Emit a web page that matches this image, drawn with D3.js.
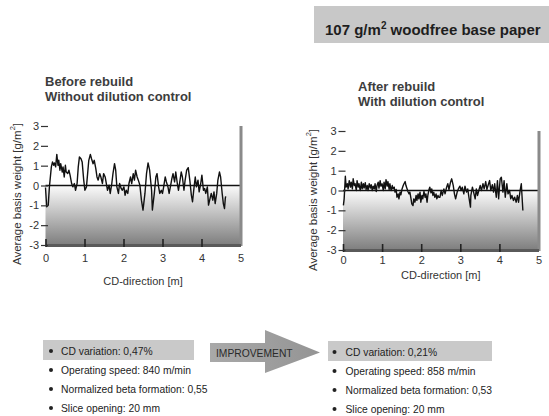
<!DOCTYPE html>
<html>
<head>
<meta charset="utf-8">
<script src="https://cdn.jsdelivr.net/npm/d3@7"></script>
<style>
    body { margin: 0; background: #fff; }
    svg { display: block; font-family: "Liberation Sans", Arial, sans-serif; }
</style>
</head>
<body>
<svg id="chart" width="549" height="416"></svg>
<script>
// Basis weight profile before rebuild (CD position in m, deviation in g/m2)
const beforeX = [0.00, 0.03, 0.07, 0.10, 0.15, 0.18, 0.21, 0.23, 0.26, 0.29, 0.32, 0.34, 0.37, 0.39, 0.43, 0.45, 0.48, 0.51, 0.53, 0.57,
    0.60, 0.63, 0.67, 0.70, 0.74, 0.77, 0.81, 0.84, 0.87, 0.91, 0.94, 0.98, 1.01, 1.05, 1.08, 1.11, 1.15, 1.18, 1.22, 1.25,
    1.29, 1.32, 1.35, 1.39, 1.42, 1.46, 1.49, 1.53, 1.56, 1.59, 1.63, 1.66, 1.70, 1.73, 1.77, 1.80, 1.83, 1.87, 1.90, 1.94,
    1.97, 2.01, 2.04, 2.07, 2.11, 2.14, 2.18, 2.21, 2.25, 2.28, 2.31, 2.35, 2.38, 2.42, 2.46, 2.50, 2.55, 2.59, 2.63, 2.67,
    2.72, 2.74, 2.79, 2.83, 2.86, 2.90, 2.93, 2.97, 3.00, 3.03, 3.07, 3.10, 3.14, 3.17, 3.21, 3.24, 3.27, 3.31, 3.34, 3.38,
    3.41, 3.45, 3.48, 3.51, 3.55, 3.58, 3.62, 3.66, 3.70, 3.74, 3.77, 3.81, 3.84, 3.87, 3.91, 3.94, 3.98, 4.01, 4.05, 4.08,
    4.11, 4.15, 4.18, 4.22, 4.25, 4.29, 4.32, 4.35, 4.39, 4.42, 4.46, 4.49, 4.53, 4.56, 4.59, 4.61, 4.62];
const beforeY = [-0.1, -1.07, -0.99, -0.07, 0.94, 1.19, 1.02, 1.14, 0.94, 1.57, 1.02, 1.27, 0.77, 1.10, 0.68, 0.94, 0.43, 1.02, 0.68, 0.60,
    0.77, 0.52, 0.10, -0.07, 0.10, -0.24, 0.10, 0.94, 1.44, 1.35, 1.19, 0.27, -0.24, -0.07, 0.60, 1.27, 1.57, 1.35, 1.10, 1.27,
    0.85, 0.43, 0.27, 0.60, 0.43, 0.10, 0.60, 0.43, 0.10, -0.24, 0.02, -0.40, 0.10, 0.60, 1.10, 0.77, -0.07, -0.40, 0.10, -0.15,
    -0.24, -0.07, -0.49, -0.24, -0.40, 0.10, 0.43, 0.10, 0.60, 0.27, 0.77, 0.43, 0.27, 0.02, -0.74, -1.24, -0.40, 0.60, 1.14, 0.77,
    -0.24, -1.24, -0.40, 0.43, 0.60, -0.07, -0.40, -0.24, -0.40, -0.07, 0.43, 0.18, -0.07, -0.40, 0.02, 0.35, 0.60, 0.18, 0.68, 0.10,
    -0.24, 0.27, 0.68, 0.43, -0.24, 0.27, 0.77, 0.90, 0.27, -0.49, -0.82, -0.07, 0.43, -0.07, 0.27, -0.32, 0.10, 0.52, -0.24, -0.15,
    -0.40, -0.07, -0.99, -0.65, -0.40, -0.74, -0.32, -0.91, -0.40, 0.27, 0.68, 0.43, -0.40, -0.91, -1.16, -0.65, -0.55];

// Basis weight profile after rebuild
const afterX = [0.01, 0.03, 0.06, 0.08, 0.11, 0.13, 0.16, 0.19, 0.21, 0.24, 0.26, 0.29, 0.31, 0.34, 0.36, 0.39, 0.41, 0.44, 0.47, 0.49,
    0.52, 0.54, 0.57, 0.59, 0.62, 0.64, 0.67, 0.70, 0.72, 0.75, 0.77, 0.80, 0.82, 0.85, 0.87, 0.90, 0.92, 0.95, 0.97, 1.00,
    1.03, 1.05, 1.08, 1.10, 1.13, 1.15, 1.18, 1.20, 1.23, 1.26, 1.28, 1.31, 1.33, 1.36, 1.38, 1.41, 1.43, 1.46, 1.48, 1.51,
    1.54, 1.56, 1.59, 1.61, 1.64, 1.66, 1.69, 1.71, 1.74, 1.76, 1.79, 1.81, 1.84, 1.87, 1.89, 1.92, 1.94, 1.97, 1.99, 2.02,
    2.04, 2.07, 2.10, 2.12, 2.15, 2.17, 2.20, 2.22, 2.25, 2.27, 2.30, 2.32, 2.35, 2.38, 2.40, 2.43, 2.45, 2.48, 2.51, 2.54,
    2.58, 2.61, 2.65, 2.68, 2.71, 2.75, 2.78, 2.82, 2.85, 2.88, 2.92, 2.95, 2.99, 3.02, 3.05, 3.09, 3.12, 3.16, 3.19, 3.22,
    3.26, 3.27, 3.31, 3.34, 3.38, 3.41, 3.44, 3.48, 3.51, 3.54, 3.58, 3.61, 3.65, 3.68, 3.71, 3.75, 3.78, 3.82, 3.85, 3.88,
    3.92, 3.95, 3.98, 4.02, 4.05, 4.09, 4.12, 4.15, 4.19, 4.22, 4.26, 4.29, 4.32, 4.36, 4.39, 4.43, 4.46, 4.49, 4.53, 4.56, 4.60];
const afterY = [-0.75, -0.42, 0.72, 0.17, 0.34, 0.08, 0.50, 0.17, 0.42, 0.08, 0.59, 0.25, 0.34, 0.00, 0.50, 0.17, 0.34, 0.00, 0.42, 0.08,
    0.34, 0.12, 0.39, 0.05, 0.25, 0.00, 0.34, 0.12, 0.29, 0.00, 0.22, 0.08, 0.34, -0.05, 0.25, 0.42, 0.12, 0.50, 0.22, 0.34,
    0.00, 0.42, 0.08, 0.55, 0.22, 0.45, 0.05, 0.34, 0.00, 0.25, 0.08, 0.17, -0.08, 0.05, -0.34, -0.17, -0.42, -0.08, -0.22, 0.08,
    0.25, 0.34, 0.45, 0.25, 0.08, -0.05, -0.17, -0.08, -0.42, -0.67, -0.76, -0.42, -0.59, -0.25, -0.50, -0.17, -0.42, -0.08, -0.59, -0.25,
    -0.42, -0.05, -0.34, -0.17, -0.59, -0.25, 0.05, 0.17, -0.12, 0.08, -0.25, -0.08, -0.34, -0.17, -0.42, -0.25, -0.34, -0.34, 0.00, -0.25,
    0.08, -0.17, 0.17, 0.34, 0.05, 0.42, 0.59, 0.25, -0.17, -0.42, -0.08, 0.08, 0.22, 0.00, 0.17, -0.17, 0.22, -0.08, 0.08, -0.34,
    -0.84, -0.25, 0.17, -0.08, -0.42, 0.08, -0.25, 0.05, 0.25, 0.00, 0.34, 0.08, 0.45, 0.05, 0.25, 0.50, 0.00, 0.29, -0.08, 0.34,
    -0.34, 0.50, -0.42, 0.59, 0.67, -0.08, 0.50, -0.34, 0.34, -0.17, 0.00, -0.42, -0.25, -0.50, -0.34, -0.59, -0.25, -0.59, 0.00, 0.34, -1.01];

// Axis ticks
const xTicks = [0, 1, 2, 3, 4, 5];
const yTicks = [3, 2, 1, 0, -1, -2, -3];

// Texts
const headerText = '107 g/m';
const beforeTitle = ['Before rebuild', 'Without dilution control'];
const afterTitle = ['After rebuild', 'With dilution control'];
const beforeStats = ['CD variation: 0,47%', 'Operating speed: 840 m/min', 'Normalized beta formation: 0,55', 'Slice opening: 20 mm'];
const afterStats = ['CD variation: 0,21%', 'Operating speed: 858 m/min', 'Normalized beta formation: 0,53', 'Slice opening: 20 mm'];

const svg = d3.select('#chart');
const defs = svg.append('defs');

const shade = defs.append('linearGradient')
    .attr('id', 'shade')
    .attr('x1', 0).attr('y1', 0).attr('x2', 0).attr('y2', 1);
shade.append('stop').attr('offset', '0%').attr('stop-color', '#fbfbfb');
shade.append('stop').attr('offset', '100%').attr('stop-color', '#7e7e7e');

const arrowFill = defs.append('linearGradient')
    .attr('id', 'arrowFill')
    .attr('x1', 0).attr('y1', 0).attr('x2', 1).attr('y2', 0);
arrowFill.append('stop').attr('offset', '0%').attr('stop-color', '#a9a9a9');
arrowFill.append('stop').attr('offset', '100%').attr('stop-color', '#949494');

// Header box
svg.append('rect')
    .attr('x', 314).attr('y', 6)
    .attr('width', 235).attr('height', 37)
    .attr('fill', '#c8c8c8');

const header = svg.append('text')
    .attr('x', 325).attr('y', 35)
    .attr('font-size', '15px')
    .attr('font-weight', 'bold')
    .attr('fill', '#1e1e1e');
header.append('tspan').text(headerText);
header.append('tspan').attr('font-size', '10px').attr('dy', -6).text('2');
header.append('tspan').attr('dy', 6).text(' woodfree base paper');

// Draw one profile panel
function drawPanel(cfg) {
    const x = d3.scaleLinear().domain([0, 5]).range([cfg.left, cfg.right]);
    const y = d3.scaleLinear().domain([-3, 3]).range([cfg.bottom, cfg.top]);
    const g = svg.append('g');

    // Titles
    cfg.title.forEach((line, i) => {
        g.append('text')
            .attr('x', cfg.titleX)
            .attr('y', cfg.titleY + i * 15)
            .attr('font-size', '13px')
            .attr('font-weight', 'bold')
            .attr('fill', '#3d3d3d')
            .text(line);
    });

    // Shaded area below zero
    g.append('rect')
        .attr('x', x(0))
        .attr('y', y(0))
        .attr('width', x(5) - x(0))
        .attr('height', y(-3) - y(0))
        .attr('fill', 'url(#shade)');

    // Zero line
    g.append('line')
        .attr('x1', x(0)).attr('x2', x(5))
        .attr('y1', y(0)).attr('y2', y(0))
        .attr('stroke', '#111')
        .attr('stroke-width', 1.3);

    // Profile line
    const line = d3.line()
        .x((d, i) => x(cfg.xs[i]))
        .y(d => y(d));
    g.append('path')
        .datum(cfg.ys)
        .attr('d', line)
        .attr('fill', 'none')
        .attr('stroke', '#111')
        .attr('stroke-width', 1.4)
        .attr('stroke-linejoin', 'round');

    // Right gray bar
    g.append('rect')
        .attr('x', x(5) - 1)
        .attr('y', y(3))
        .attr('width', 3)
        .attr('height', y(-3) - y(3) + 1)
        .attr('fill', '#8a8a8a');

    // Bottom axis
    const xAxis = g.append('g')
        .attr('transform', `translate(0,${y(-3)})`)
        .call(d3.axisBottom(x)
            .tickValues(xTicks)
            .tickSizeInner(-6)
            .tickSizeOuter(0)
            .tickPadding(cfg.tickPad)
            .tickFormat(d => String(d)));
    xAxis.select('.domain')
        .attr('stroke', '#5a5a5a')
        .attr('stroke-width', 3);
    xAxis.selectAll('.tick line')
        .attr('y1', 2)
        .attr('stroke', '#222')
        .attr('stroke-width', 1.6);
    xAxis.selectAll('.tick')
        .filter(d => d === 5)
        .select('line').remove();
    xAxis.selectAll('.tick text')
        .attr('font-size', '11px')
        .attr('fill', '#333')
        .attr('font-family', '"Liberation Sans", Arial, sans-serif');

    // Left ticks
    const yAxis = g.append('g')
        .attr('transform', `translate(${x(0) + 2.5},0)`)
        .call(d3.axisLeft(y)
            .tickValues(yTicks)
            .tickSize(7)
            .tickPadding(2)
            .tickFormat(d => String(d)));
    yAxis.select('.domain').remove();
    yAxis.selectAll('.tick line')
        .attr('stroke', '#333')
        .attr('stroke-width', 1.2);
    yAxis.selectAll('.tick text')
        .attr('font-size', '11px')
        .attr('fill', '#333')
        .attr('font-family', '"Liberation Sans", Arial, sans-serif');

    // Axis titles
    g.append('text')
        .attr('x', x(2.5))
        .attr('y', cfg.xLabelY)
        .attr('text-anchor', 'middle')
        .attr('font-size', '11px')
        .attr('fill', '#333')
        .text('CD-direction [m]');

    const yLab = g.append('text')
        .attr('transform', `translate(${cfg.yLabelX},${cfg.yLabelY}) rotate(-90)`)
        .attr('text-anchor', 'middle')
        .attr('dy', '0.35em')
        .attr('font-size', '11.5px')
        .attr('fill', '#333');
    yLab.append('tspan').text('Average basis weight [g/m');
    yLab.append('tspan').attr('font-size', '7.5px').attr('dy', '-0.8em').text('2');
    yLab.append('tspan').attr('dy', '0.55em').text(']');
}

drawPanel({
    left: 45.5, right: 240.5, top: 126, bottom: 245,
    xs: beforeX, ys: beforeY, tickPad: 9,
    title: beforeTitle, titleX: 45, titleY: 86,
    xLabelY: 285, yLabelX: 17, yLabelY: 194
});

drawPanel({
    left: 343, right: 538.5, top: 131, bottom: 250,
    xs: afterX, ys: afterY, tickPad: 6,
    title: afterTitle, titleX: 358, titleY: 91,
    xLabelY: 279, yLabelX: 313, yLabelY: 200
});

// Stats lists
function drawStats(stats, box, bulletX, textX, baseY) {
    svg.append('rect')
        .attr('x', box.x).attr('y', box.y)
        .attr('width', box.w).attr('height', box.h)
        .attr('fill', '#c9c9c9');
    stats.forEach((s, i) => {
        const yy = baseY + i * 19;
        svg.append('circle')
            .attr('cx', bulletX).attr('cy', yy - 3.5)
            .attr('r', 2)
            .attr('fill', '#222');
        svg.append('text')
            .attr('x', textX).attr('y', yy)
            .attr('font-size', '10.3px')
            .attr('fill', '#222')
            .text(s);
    });
}

drawStats(beforeStats, { x: 43, y: 340, w: 151, h: 20 }, 51, 61, 354.5);
drawStats(afterStats, { x: 328, y: 341, w: 164, h: 20 }, 334.5, 345.5, 355.5);

// Improvement arrow
svg.append('path')
    .attr('d', 'M210,343 L265,343 L265,330 L320,352.5 L265,373 L265,362 L210,362 Z')
    .attr('fill', 'url(#arrowFill)');
svg.append('text')
    .attr('x', 216).attr('y', 356.5)
    .attr('font-size', '10.3px')
    .attr('fill', '#2a2a2a')
    .text('IMPROVEMENT');
</script>
</body>
</html>
